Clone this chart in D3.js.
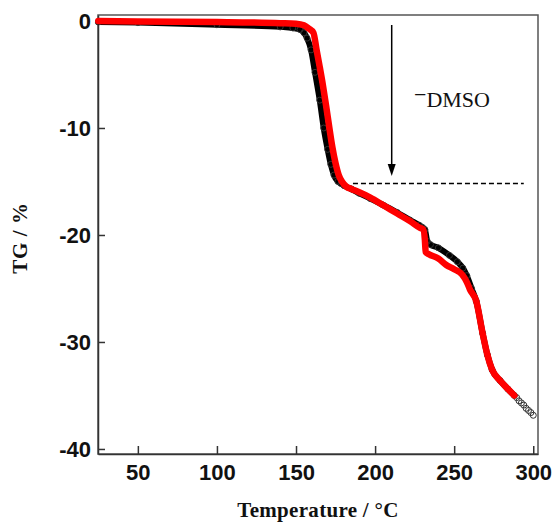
<!DOCTYPE html>
<html>
<head>
<meta charset="utf-8">
<script src="https://cdn.jsdelivr.net/npm/d3@7"></script>
<style>
  body { margin: 0; background: #fff; }
  svg { display: block; }
</style>
</head>
<body>
<svg id="chart" width="556" height="525"></svg>
<script>
"use strict";

// black series (open circles, drawn thick)
var blackT = [25, 50, 100, 140, 148, 152.5, 155, 157, 159.5, 162, 165, 167.5, 170, 172, 174, 176.5, 178.5, 180.5, 185, 190, 197, 205, 214, 222, 228, 230, 231.5, 233, 235, 240, 247, 252, 255.5, 258, 261, 264, 268, 271, 274, 279, 284,
  288, 289.5, 291, 292.5, 294, 295.5, 297, 298.5, 300];
var blackTG = [-0.1, -0.15, -0.35, -0.55, -0.65, -0.8, -1.1, -1.6, -2.7, -4.8, -7.4, -10, -12, -13.4, -14.4, -15.0, -15.2, -15.4, -15.7, -16.1, -16.6, -17.2, -17.9, -18.6, -19.1, -19.3, -19.5, -20.6, -20.9, -21.2, -21.9, -22.5, -23.1, -23.8, -25.0, -26.2, -29.2, -31.2, -32.6, -33.6, -34.4,
  -35.0, -35.2, -35.5, -35.7, -35.9, -36.2, -36.4, -36.6, -36.85];

// red series
var redT = [25, 50, 100, 140, 150, 155, 158, 161, 163, 165, 167, 169, 171, 173, 175, 177, 179, 182, 185, 190, 197, 205, 214, 222, 228, 230.5, 231.5, 232, 234, 240, 245, 250, 255, 258, 260, 264, 268, 271, 274, 279, 284, 288];
var redTG = [0, -0.05, -0.1, -0.2, -0.25, -0.4, -0.7, -1.1, -2.7, -4.3, -6.0, -7.9, -9.9, -11.8, -13.3, -14.4, -15.0, -15.5, -15.7, -16.0, -16.5, -17.2, -18.0, -18.7, -19.3, -19.5, -20.5, -21.6, -21.8, -22.2, -22.8, -23.2, -23.7, -24.4, -25.1, -26.2, -29.2, -31.2, -32.6, -33.6, -34.4, -35.0];

var xTicks = [50, 100, 150, 200, 250, 300];
var yTicks = [0, -10, -20, -30, -40];
var dmsoLevel = -15.2;

var svg = d3.select("#chart");
var pLeft = 98, pRight = 538, pTop = 15, pBottom = 454;

var x = d3.scaleLinear().domain([24.8, 303]).range([pLeft, pRight]);
var y = d3.scaleLinear().domain([0.56, -40.47]).range([pTop, pBottom]);

var black = blackT.map(function(t, i) { return { t: t, v: blackTG[i] } });
var red = redT.map(function(t, i) { return { t: t, v: redTG[i] } });

var line = d3.line()
  .x(function(d) { return x(d.t) })
  .y(function(d) { return y(d.v) })
  .curve(d3.curveMonotoneX);

// frame
svg.append("rect")
  .attr("x", pLeft).attr("y", pTop)
  .attr("width", pRight - pLeft).attr("height", pBottom - pTop)
  .attr("fill", "none").attr("stroke", "#555").attr("stroke-width", 1.5);

// axes (plain hyphen for negatives, like the original)
var plain = function(d) { return String(d) };
var xAxis = svg.append("g")
  .attr("transform", "translate(0," + pBottom + ")")
  .call(d3.axisBottom(x).tickValues(xTicks).tickFormat(plain).tickSize(-8).tickSizeOuter(0).tickPadding(10));
var yAxis = svg.append("g")
  .attr("transform", "translate(" + pLeft + ",0)")
  .call(d3.axisLeft(y).tickValues(yTicks).tickFormat(plain).tickSize(-7).tickSizeOuter(0).tickPadding(7));

[xAxis, yAxis].forEach(function(a) {
  a.select(".domain").attr("stroke", "#333").attr("stroke-width", 1.5);
  a.selectAll(".tick line").attr("stroke", "#333").attr("stroke-width", 1.5);
  a.selectAll(".tick text")
    .attr("fill", "#111")
    .style("font-family", "'Liberation Sans', Arial, sans-serif")
    .style("font-weight", "bold")
    .style("font-size", "22px");
});
yAxis.selectAll(".tick text").attr("dy", "0.36em");

// black curve: thick line, open circles at the tail
svg.append("path")
  .datum(black.filter(function(d) { return d.t <= 288 }))
  .attr("d", line)
  .attr("fill", "none")
  .attr("stroke", "#000")
  .attr("stroke-width", 6)
  .attr("stroke-linejoin", "round")
  .attr("stroke-linecap", "round");

svg.append("g").selectAll("circle")
  .data(black)
  .enter().append("circle")
  .attr("cx", function(d) { return x(d.t) })
  .attr("cy", function(d) { return y(d.v) })
  .attr("r", 3)
  .attr("fill", "none")
  .attr("stroke", "#333")
  .attr("stroke-width", 1);

// red curve
svg.append("path")
  .datum(red)
  .attr("d", line)
  .attr("fill", "none")
  .attr("stroke", "#f00")
  .attr("stroke-width", 6.5)
  .attr("stroke-linejoin", "round")
  .attr("stroke-linecap", "round");

// DMSO annotation
var arrowX = x(210.5);
svg.append("line")
  .attr("x1", x(186)).attr("x2", x(294))
  .attr("y1", y(dmsoLevel)).attr("y2", y(dmsoLevel))
  .attr("stroke", "#000").attr("stroke-width", 1.5)
  .attr("stroke-dasharray", "5,3");
svg.append("line")
  .attr("x1", arrowX).attr("x2", arrowX)
  .attr("y1", 25).attr("y2", 166)
  .attr("stroke", "#000").attr("stroke-width", 1.5);
svg.append("path")
  .attr("d", "M" + (arrowX - 4) + ",164 L" + (arrowX + 4) + ",164 L" + arrowX + ",176 Z")
  .attr("fill", "#000");

var lbl = svg.append("text")
  .attr("x", 414).attr("y", 107)
  .style("font-family", "'Liberation Serif', 'Times New Roman', serif")
  .style("font-size", "22px")
  .attr("fill", "#111");
lbl.append("tspan").attr("dy", -5).text("\u2212");
lbl.append("tspan").attr("dy", 5).text("DMSO");

// axis titles
svg.append("text")
  .attr("x", 318).attr("y", 517)
  .attr("text-anchor", "middle")
  .style("font-family", "'Liberation Serif', 'Times New Roman', serif")
  .style("font-weight", "bold")
  .style("font-size", "21px")
  .style("letter-spacing", "0.3px")
  .attr("fill", "#111")
  .text("Temperature / \u00B0C");

svg.append("text")
  .attr("transform", "translate(27,238) rotate(-90)")
  .attr("text-anchor", "middle")
  .style("font-family", "'Liberation Serif', 'Times New Roman', serif")
  .style("font-weight", "bold")
  .style("font-size", "21px")
  .style("letter-spacing", "0.6px")
  .attr("fill", "#111")
  .text("TG / %");
</script>
</body>
</html>
